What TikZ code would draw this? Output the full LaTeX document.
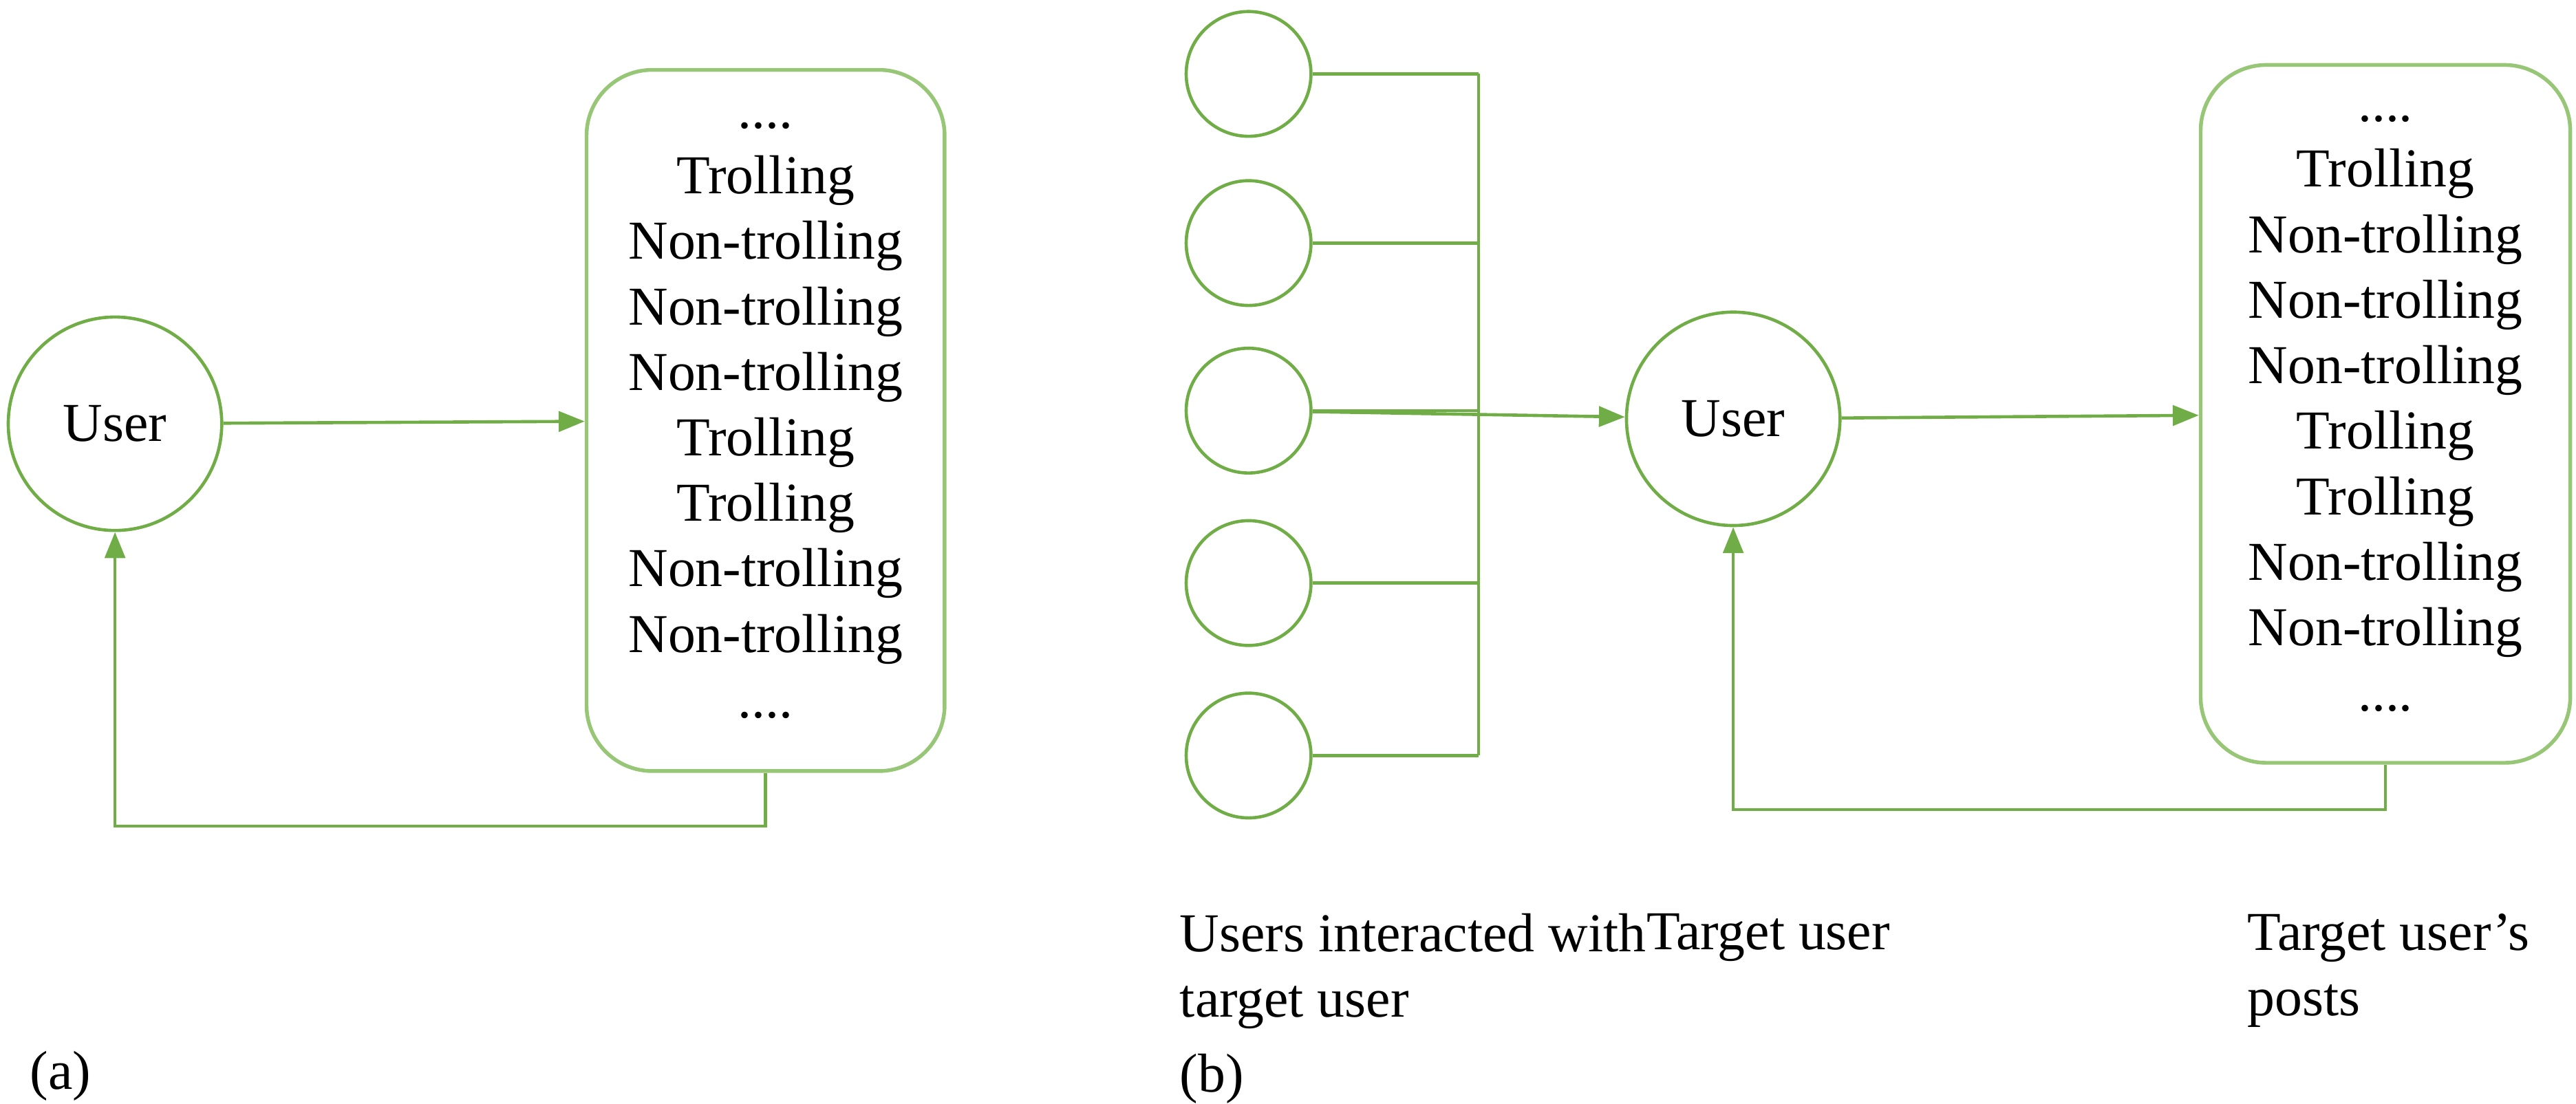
\documentclass[tikz,border=0pt]{standalone}
\usepackage{fontspec}
\setmainfont{Liberation Serif}
\usetikzlibrary{arrows.meta}
\definecolor{gr}{RGB}{112,173,71}
\definecolor{lgr}{RGB}{150,198,118}
\begin{document}
\begin{tikzpicture}[x=0.02cm,y=-0.02cm,
  circ/.style={circle,draw=gr,line width=1.1pt,minimum size=#1*0.04cm,inner sep=0pt},
  box/.style={draw=lgr,line width=1.3pt,rounded corners=0.8cm,minimum width=4.4cm,minimum height=8.5cm,align=center,font=\fontsize{19}{22.7}\selectfont},
  ln/.style={draw=gr,line width=1.1pt},
  ar/.style={ln,-{Triangle[length=9pt,width=7pt]}},
  lbl/.style={font=\fontsize{19}{22.7}\selectfont,anchor=west,align=left}]
\useasboundingbox (0,0) rectangle (1568,672);
\node[circ=65] (ua) at (70,258) {\fontsize{19}{22}\selectfont User};
\node[box,minimum width=4.36cm,minimum height=8.54cm] (ba) at (466,256) {....\\Trolling\\Non-trolling\\Non-trolling\\Non-trolling\\Trolling\\Trolling\\Non-trolling\\Non-trolling\\....};
\draw[ar] (ua) -- (ba);
\coordinate (ca) at (466,503);
\draw[ar] (ba.south) -- (ca) -| (ua.south);
\node[lbl] at (12,655) {(a)};
\foreach \i/\y in {1/45,2/148,3/250,4/355,5/460}{
  \node[circ=38] (s\i) at (760,\y) {};
  \coordinate (j\i) at (900,\y);
  \draw[ln] (s\i) -- (j\i);
}
\draw[ln] (j1) -- (j5);
\node[circ=65] (ub) at (1055,255) {\fontsize{19}{22}\selectfont User};
\node[box,minimum width=4.5cm,minimum height=8.5cm] (bb) at (1452,252) {....\\Trolling\\Non-trolling\\Non-trolling\\Non-trolling\\Trolling\\Trolling\\Non-trolling\\Non-trolling\\....};
\draw[ar] (s3) -- (ub);
\draw[ar] (ub) -- (bb);
\coordinate (cb) at (1452,493);
\draw[ar] (bb.south) -- (cb) -| (ub.south);
\node[lbl,anchor=north west] at (712,550) {Users interacted with\\target user};
\node[lbl,anchor=north west] at (996,550) {Target user};
\node[lbl,anchor=north west] at (1362,550) {Target user’s\\posts};
\node[lbl] at (712,657) {(b)};
\end{tikzpicture}
\end{document}
